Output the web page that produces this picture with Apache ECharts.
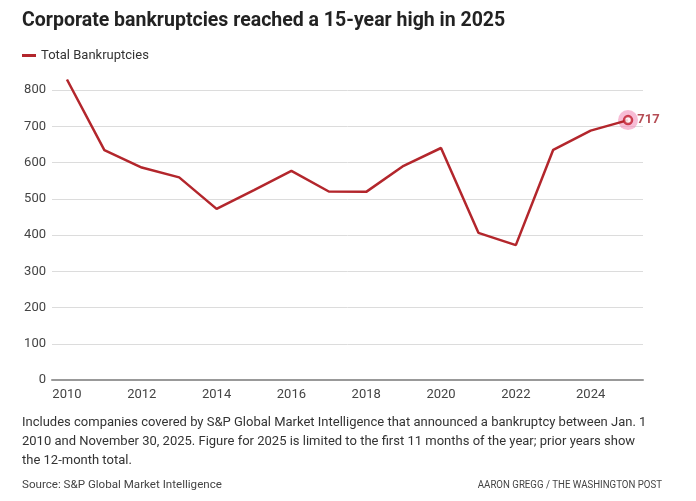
<!DOCTYPE html>
<html>
<head>
<meta charset="utf-8">
<script src="https://cdn.jsdelivr.net/npm/echarts@6/dist/echarts.min.js"></script>
<style>
html,body{margin:0;padding:0;background:#fff;}
#chart{width:696px;height:501px;}
</style>
</head>
<body>
<div id="chart"></div>
<script>
const years = [2010,2011,2012,2013,2014,2015,2016,2017,2018,2019,2020,2021,2022,2023,2024,2025];
const bankruptcies = [829,634,586,559,472,524,577,520,519,591,640,406,372,635,688,717];
const xTickLabels = [2010,2012,2014,2016,2018,2020,2022,2024];
const yTicks = [0,100,200,300,400,500,600,700,800];
const seriesName = 'Total Bankruptcies';
const titleText = 'Corporate bankruptcies reached a 15-year high in 2025';
const noteLines = [
  'Includes companies covered by S&P Global Market Intelligence that announced a bankruptcy between Jan. 1',
  '2010 and November 30, 2025. Figure for 2025 is limited to the first 11 months of the year; prior years show',
  'the 12-month total.'
];
const sourceText = 'Source: S&P Global Market Intelligence';
const creditText = 'AARON GREGG / THE WASHINGTON POST';

const RED = '#b3262c';
const FONT = 'Roboto, "Noto Sans", sans-serif';

const lineData = years.map((y,i)=>[y,bankruptcies[i]]);
const last = lineData[lineData.length-1];

const chart = echarts.init(document.getElementById('chart'), null, {renderer:'canvas'});
chart.setOption({
  animation:false,
  backgroundColor:'#fff',
  title:{
    text:titleText, left:22, top:11, padding:0,
    textStyle:{fontFamily:FONT, fontSize:19.5, fontWeight:'bold', color:'#222'}
  },
  legend:{
    left:17, top:44, data:[{name:seriesName, icon:'rect'}],
    itemWidth:14, itemHeight:3, itemGap:6,
    textStyle:{fontFamily:FONT, fontSize:13, color:'#333'}
  },
  grid:{left:52, right:53, top:90, bottom:121, containLabel:false},
  xAxis:{
    type:'value', min:2009.6, max:2025.4,
    axisLine:{show:true, lineStyle:{color:'#999', width:2}},
    axisTick:{show:false},
    splitLine:{show:false},
    axisLabel:{
      customValues:xTickLabels, formatter:v=>String(v),
      fontFamily:FONT, fontSize:13, color:'#444', margin:8
    }
  },
  yAxis:{
    type:'value', min:0, max:800, interval:100,
    axisLine:{show:false}, axisTick:{show:false},
    splitLine:{lineStyle:{color:'#dcdcdc', width:1}},
    axisLabel:{fontFamily:FONT, fontSize:13, color:'#444', margin:6}
  },
  series:[
    {
      name:seriesName, type:'line', data:lineData, clip:false,
      symbol:'none', lineStyle:{color:RED, width:2.5}, itemStyle:{color:RED},
      z:3
    },
    {
      name:'halo', type:'scatter', data:[last], clip:false,
      symbol:'circle', symbolSize:20,
      itemStyle:{color:'rgba(243,150,190,0.8)'}, z:2, silent:true
    },
    {
      name:'endpoint', type:'scatter', data:[last], clip:false,
      symbol:'circle', symbolSize:8,
      itemStyle:{color:'#fff', borderColor:'#c0182a', borderWidth:2.5}, z:4,
      label:{show:true, position:'right', distance:4, formatter:p=>String(p.value[1]),
        fontFamily:FONT, fontSize:13, fontWeight:'bold', color:'#a3202a'}
    }
  ],
  graphic:[
    ...noteLines.map((t,i)=>({
      type:'text', left:22, top:416+i*19,
      style:{text:t, font:'13px '+FONT, fill:'#333'}
    })),
    {type:'text', left:22, top:479, style:{text:sourceText, font:'11.6px '+FONT, fill:'#444'}},
    {type:'text', x:662, y:479, scaleX:0.84,
      style:{text:creditText, font:'11.5px '+FONT, fill:'#444', align:'right', verticalAlign:'top'}}
  ]
});
</script>
</body>
</html>
